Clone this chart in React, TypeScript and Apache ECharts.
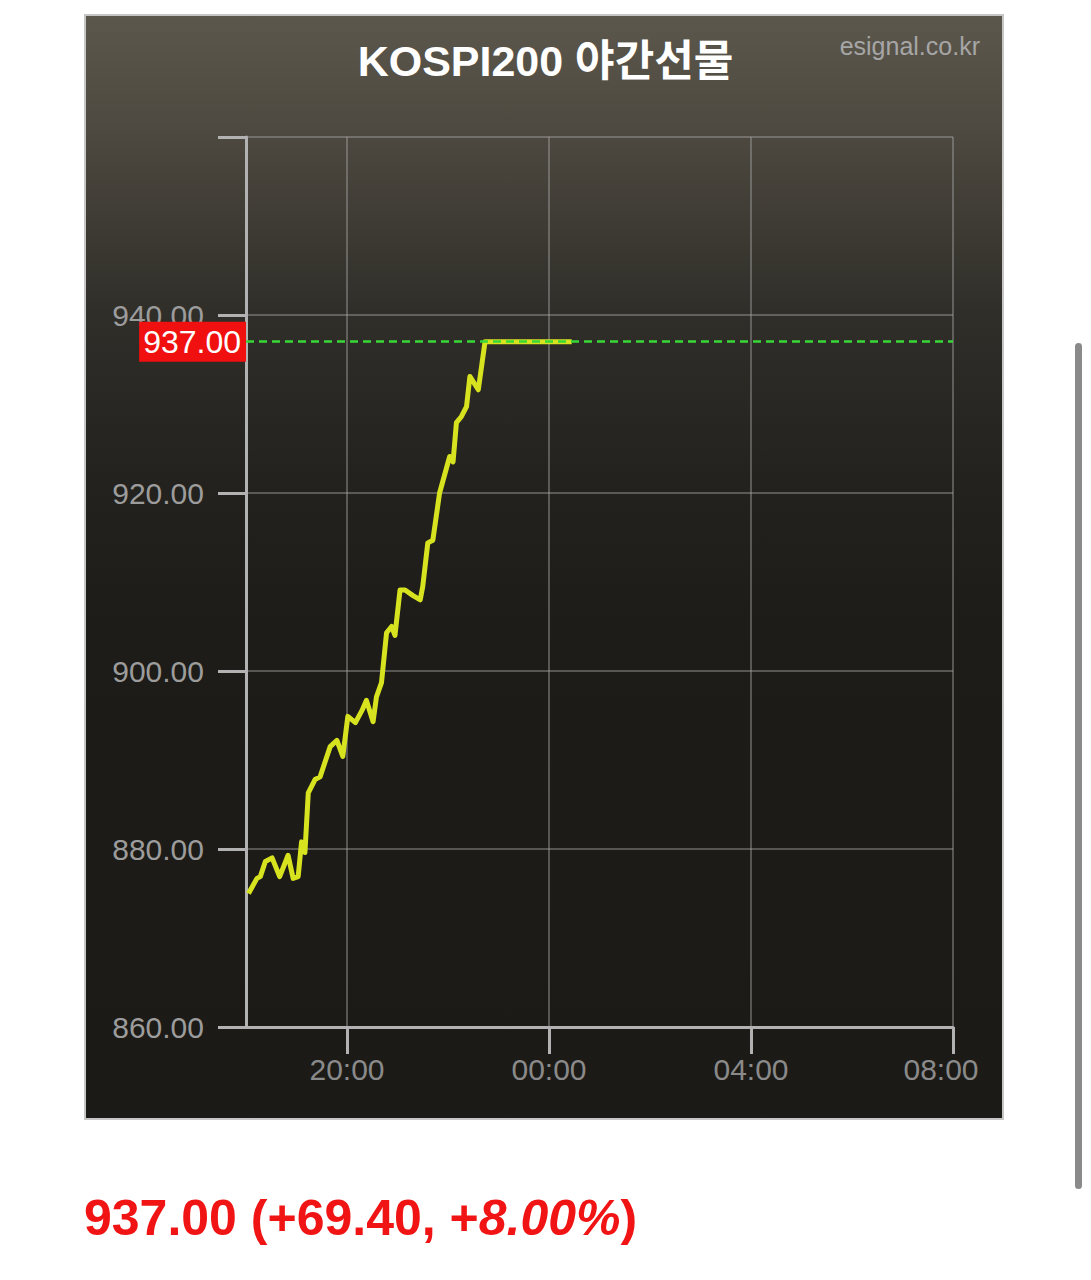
import React, { useEffect, useRef } from "react";
import * as echarts from "echarts";

const TITLE = "KOSPI200 야간선물";
const SOURCE = "esignal.co.kr";

const TIMES = [
  "18:03", "18:13", "18:17", "18:23", "18:31", "18:40", "18:50", "18:56", "19:02", "19:06",
  "19:10", "19:14", "19:22", "19:28", "19:40", "19:48", "19:55", "20:01", "20:10", "20:18",
  "20:23", "20:31", "20:35", "20:41", "20:47", "20:53", "20:57", "21:03", "21:09", "21:18",
  "21:27", "21:30", "21:36", "21:42", "21:50", "22:02", "22:06", "22:10", "22:16", "22:22",
  "22:26", "22:36", "22:44", "00:27",
];
const PRICES = [
  875.0, 876.7, 876.9, 878.6, 879.0, 876.9, 879.3, 876.7, 876.9, 880.8,
  879.6, 886.3, 887.8, 888.1, 891.5, 892.2, 890.4, 894.9, 894.2, 895.6,
  896.7, 894.3, 897.1, 898.7, 904.3, 905.0, 904.0, 909.1, 909.1, 908.5,
  908.0, 909.5, 914.4, 914.7, 920.0, 924.1, 923.5, 927.9, 928.6, 929.7,
  933.1, 931.6, 937.0, 937.0,
];

const X_START = "18:00";
const X_END = "08:00";
const X_TICK_LABELS = ["20:00", "00:00", "04:00", "08:00"];
const Y_MIN = 860;
const Y_MAX = 960;
const Y_STEP = 20;

const LAST_PRICE = 937.0;
const CHANGE = 69.4;
const CHANGE_PCT = 8.0;

const FONT = "'Liberation Sans', Arial, 'Noto Sans CJK KR', sans-serif";

function toMinutes(s: string): number {
  const [h, m] = s.split(":").map(Number);
  return (h < 12 ? h + 24 : h) * 60 + m;
}

function fmtTime(v: number): string {
  const h = Math.floor(v / 60) % 24;
  const m = Math.round(v % 60);
  return `${String(h).padStart(2, "0")}:${String(m).padStart(2, "0")}`;
}

export default function App() {
  const ref = useRef<HTMLDivElement>(null);

  useEffect(() => {
    document.body.style.margin = "0";
    document.body.style.overflow = "hidden";
    if (!ref.current) return;
    const chart = echarts.init(ref.current, undefined, { renderer: "svg" });

    const data = TIMES.map((t, i) => [toMinutes(t), PRICES[i]]);
    const tickValues = X_TICK_LABELS.map(toMinutes);
    const lastTick = tickValues[tickValues.length - 1];

    const axisColor = "#b2b2b2";
    const gridColor = "rgba(170,170,170,0.42)";

    const option: any = {
      animation: false,
      title: {
        text: TITLE,
        left: "center",
        top: 34,
        textStyle: {
          color: "#ffffff",
          fontSize: 43,
          fontWeight: "bold",
          fontFamily: FONT,
        },
      },
      grid: { left: 246, top: 137, right: 138, bottom: 253, containLabel: false },
      xAxis: {
        type: "value",
        min: toMinutes(X_START),
        max: toMinutes(X_END),
        axisLine: { show: true, onZero: false, lineStyle: { color: axisColor, width: 3 } },
        axisTick: {
          show: true,
          length: 27,
          customValues: tickValues,
          lineStyle: { color: axisColor, width: 3 },
        },
        splitLine: {
          show: true,
          customValues: tickValues,
          lineStyle: { color: gridColor, width: 2 },
        },
        axisLabel: {
          customValues: tickValues,
          margin: 27,
          color: "#8a8a8a",
          fontSize: 30,
          fontFamily: FONT,
          formatter: (v: number) => (v === lastTick ? `{r|${fmtTime(v)}}` : fmtTime(v)),
          rich: {
            r: { color: "#8a8a8a", fontSize: 30, fontFamily: FONT, padding: [0, 24, 0, 0] },
          },
        },
      },
      yAxis: {
        type: "value",
        min: Y_MIN,
        max: Y_MAX,
        interval: Y_STEP,
        axisLine: { show: true, lineStyle: { color: axisColor, width: 3 } },
        axisTick: { show: true, length: 28, lineStyle: { color: axisColor, width: 3 } },
        splitLine: { show: true, lineStyle: { color: gridColor, width: 2 } },
        axisLabel: {
          margin: 42,
          color: "#9c9c9c",
          fontSize: 30,
          fontFamily: FONT,
          formatter: (v: number) => (v === Y_MAX ? "" : v.toFixed(2)),
        },
      },
      series: [
        {
          type: "line",
          data,
          showSymbol: false,
          symbol: "none",
          lineStyle: { color: "#d7e31f", width: 5, join: "round" },
          z: 3,
          markLine: {
            silent: true,
            symbol: ["none", "none"],
            data: [{ yAxis: LAST_PRICE }],
            lineStyle: { color: "#38d838", type: [8, 5], width: 2.5 },
            label: {
              show: true,
              position: "start",
              distance: 0,
              formatter: (p: any) => Number(p.value).toFixed(2),
              backgroundColor: "#f01010",
              color: "#ffffff",
              fontSize: 32,
              fontFamily: FONT,
              padding: [6, 5, 2, 4],
            },
          },
        },
      ],
      graphic: [
        {
          type: "rect",
          z: -100,
          silent: true,
          shape: { x: 85, y: 15, width: 918, height: 1104 },
          style: {
            fill: new echarts.graphic.LinearGradient(0, 0, 0, 1, [
              { offset: 0, color: "#5c574c" },
              { offset: 0.1, color: "#4e4a41" },
              { offset: 0.27, color: "#302e29" },
              { offset: 0.42, color: "#23221e" },
              { offset: 0.55, color: "#1d1c19" },
              { offset: 1, color: "#1b1a17" },
            ]),
            stroke: "#c6c6c6",
            lineWidth: 2,
          },
        },
        {
          type: "text",
          z: 10,
          silent: true,
          x: 980,
          y: 46,
          style: {
            text: SOURCE,
            fill: "#a6a6a6",
            fontSize: 25,
            fontFamily: FONT,
            align: "right",
            verticalAlign: "middle",
          },
        },
        {
          type: "text",
          z: 10,
          silent: true,
          x: 84,
          y: 1218,
          style: {
            text: `{a|${LAST_PRICE.toFixed(2)} (+${CHANGE.toFixed(2)}, +}{b|${CHANGE_PCT.toFixed(2)}%}{a|)}`,
            verticalAlign: "middle",
            align: "left",
            rich: {
              a: { fill: "#f01414", fontSize: 50, fontWeight: "bold", fontFamily: FONT },
              b: { fill: "#f01414", fontSize: 50, fontWeight: "bold", fontStyle: "italic", fontFamily: FONT },
            },
          },
        },
        {
          type: "rect",
          z: 10,
          silent: true,
          shape: { x: 1075, y: 343, width: 7, height: 846, r: 3.5 },
          style: { fill: "#8a8a8a" },
        },
      ],
    };

    chart.setOption(option);
    return () => chart.dispose();
  }, []);

  return <div ref={ref} style={{ width: 1091, height: 1280 }} />;
}
